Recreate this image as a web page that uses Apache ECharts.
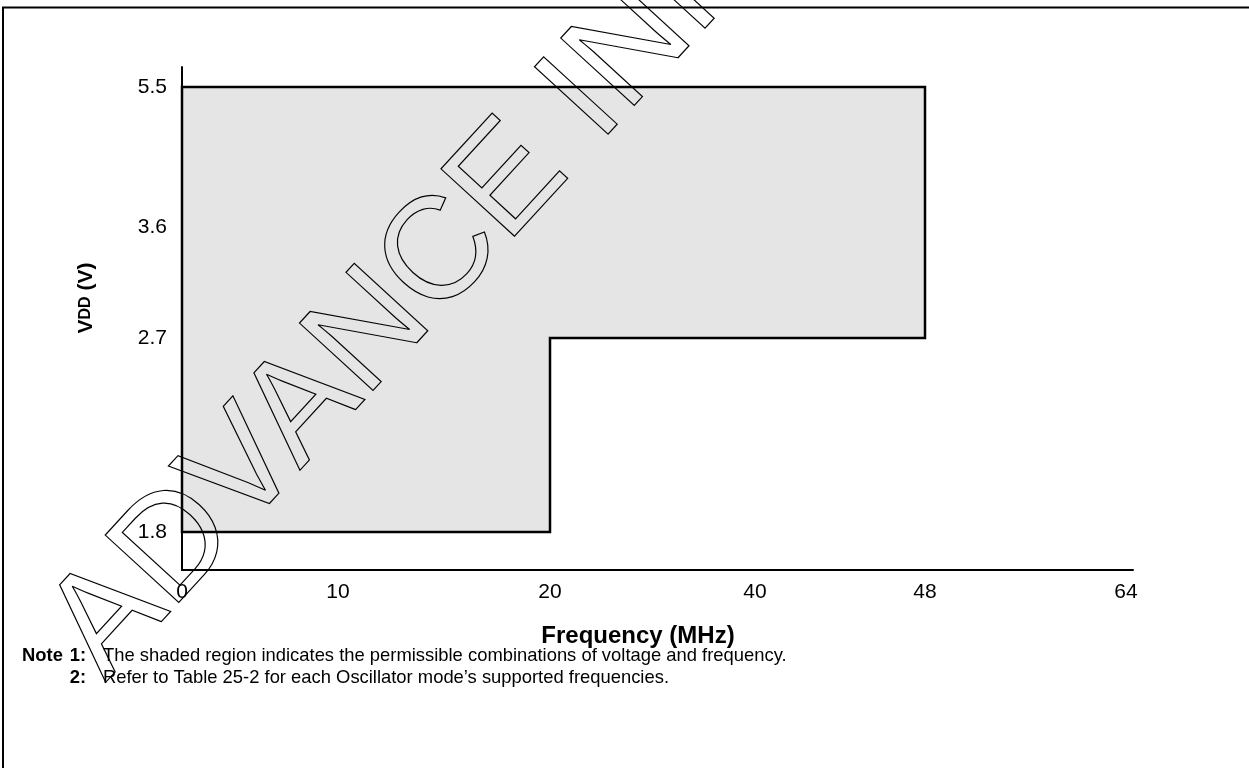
<!DOCTYPE html>
<html>
<head>
<meta charset="utf-8">
<script src="https://cdn.jsdelivr.net/npm/echarts@6/dist/echarts.min.js"></script>
<style>
html, body { margin: 0; padding: 0; background: #fff; }
#chart { width: 1249px; height: 768px; }
</style>
</head>
<body>
<div id="chart"></div>
<script>
// ======================
// DATA
// ======================

// tick labels on each axis
const freqTicks = [0, 10, 20, 40, 48, 64];      // MHz
const voltTicks = [1.8, 2.7, 3.6, 5.5];         // V

// outline of the permissible (shaded) region, walked corner by corner
const regionFreq = [0, 0, 48, 48, 20, 20];
const regionVolt = [1.8, 5.5, 5.5, 2.7, 2.7, 1.8];

// the figure is not drawn to scale: every tick gets its own slot on the axis
const freqSlot = [0, 156, 368, 573, 743, 944];
const freqSlotMax = 951;
const voltRef = [0, 1.8, 2.7, 3.6, 5.5];
const voltSlot = [0, 38, 232, 343, 483];
const voltSlotMax = 503;

const FONT = 'Liberation Sans, Arial, Helvetica, sans-serif';

// piecewise linear value -> axis slot
function toSlot(v, ref, slot) {
    for (let i = 1; i < ref.length; i++) {
        if (v <= ref[i]) {
            const t = (v - ref[i - 1]) / (ref[i] - ref[i - 1]);
            return slot[i - 1] + t * (slot[i] - slot[i - 1]);
        }
    }
    return slot[slot.length - 1];
}
const fx = f => toSlot(f, freqTicks, freqSlot);
const fy = v => toSlot(v, voltRef, voltSlot);

const regionPts = regionFreq.map((f, i) => [fx(f), fy(regionVolt[i])]);

function tickLabel(ticks, map, digits) {
    return v => {
        const i = ticks.findIndex(t => Math.abs(map(t) - v) < 0.5);
        if (i < 0) return '';
        return digits ? ticks[i].toFixed(digits) : String(ticks[i]);
    };
}

// ======================
// CHART
// ======================

const chart = echarts.init(document.getElementById('chart'), null, { renderer: 'canvas' });

const labelStyle = { color: '#000', fontSize: 21, fontFamily: FONT };

chart.setOption({
    animation: false,
    grid: {
        left: 182, top: 67, width: freqSlotMax, height: voltSlotMax,
        outerBoundsMode: 'none',
    },
    xAxis: {
        type: 'value',
        min: 0,
        max: freqSlotMax,
        axisLine: { show: true, onZero: false, lineStyle: { color: '#000', width: 2 } },
        axisTick: { show: false },
        splitLine: { show: false },
        axisLabel: {
            ...labelStyle,
            customValues: freqTicks.map(fx),
            formatter: tickLabel(freqTicks, fx, 0),
            margin: 12,
        },
    },
    yAxis: {
        type: 'value',
        min: 0,
        max: voltSlotMax,
        axisLine: { show: true, onZero: false, lineStyle: { color: '#000', width: 2 } },
        axisTick: { show: false },
        splitLine: { show: false },
        axisLabel: {
            ...labelStyle,
            customValues: voltTicks.map(fy),
            formatter: tickLabel(voltTicks, fy, 1),
            margin: 15,
        },
    },
    series: [
        {
            type: 'custom',
            data: regionPts,
            renderItem: (params, api) => {
                if (params.dataIndex !== 0) return null;
                return {
                    type: 'polygon',
                    shape: { points: regionPts.map(p => api.coord(p)) },
                    style: { fill: '#e5e5e5', stroke: '#000', lineWidth: 2.5 },
                };
            },
            silent: true,
            z: 1,
        },
    ],
    graphic: [
        // page frame
        {
            type: 'rect',
            shape: { x: 3, y: 7.5, width: 1400, height: 900 },
            style: { fill: 'none', stroke: '#000', lineWidth: 2 },
        },
        // y axis title
        {
            type: 'text',
            x: 86, y: 298,
            rotation: Math.PI / 2,
            style: {
                text: '{v|V}{dd|DD}{v| (V)}',
                align: 'center',
                verticalAlign: 'middle',
                fill: '#000',
                rich: {
                    v: { fontSize: 21, fontWeight: 'bold', fontFamily: FONT },
                    dd: { fontSize: 16, fontWeight: 'bold', fontFamily: FONT },
                },
            },
        },
        // x axis title
        {
            type: 'text',
            x: 638, y: 636,
            style: {
                text: 'Frequency (MHz)',
                align: 'center', verticalAlign: 'middle',
                font: 'bold 24px ' + FONT,
                fill: '#000',
            },
        },
        // notes
        {
            type: 'text', x: 22, y: 656,
            style: { text: 'Note', align: 'left', verticalAlign: 'middle', font: 'bold 18.4px ' + FONT, fill: '#000' },
        },
        {
            type: 'text', x: 86, y: 656,
            style: { text: '1:', align: 'right', verticalAlign: 'middle', font: 'bold 18.4px ' + FONT, fill: '#000' },
        },
        {
            type: 'text', x: 103, y: 656,
            style: {
                text: 'The shaded region indicates the permissible combinations of voltage and frequency.',
                align: 'left', verticalAlign: 'middle', font: '18.4px ' + FONT, fill: '#000',
            },
        },
        {
            type: 'text', x: 86, y: 678,
            style: { text: '2:', align: 'right', verticalAlign: 'middle', font: 'bold 18.4px ' + FONT, fill: '#000' },
        },
        {
            type: 'text', x: 103, y: 678,
            style: {
                text: 'Refer to Table 25-2 for each Oscillator mode\u2019s supported frequencies.',
                align: 'left', verticalAlign: 'middle', font: '18.4px ' + FONT, fill: '#000',
            },
        },
        // watermark
        {
            type: 'text',
            x: 662, y: 16,
            rotation: 47.5 * Math.PI / 180,
            z: 100,
            silent: true,
            style: {
                text: 'ADVANCE INFORMATION',
                align: 'center', verticalAlign: 'middle',
                font: '145px ' + FONT,
                fill: 'none',
                stroke: '#000',
                lineWidth: 1.2,
            },
        },
    ],
});
</script>
</body>
</html>
